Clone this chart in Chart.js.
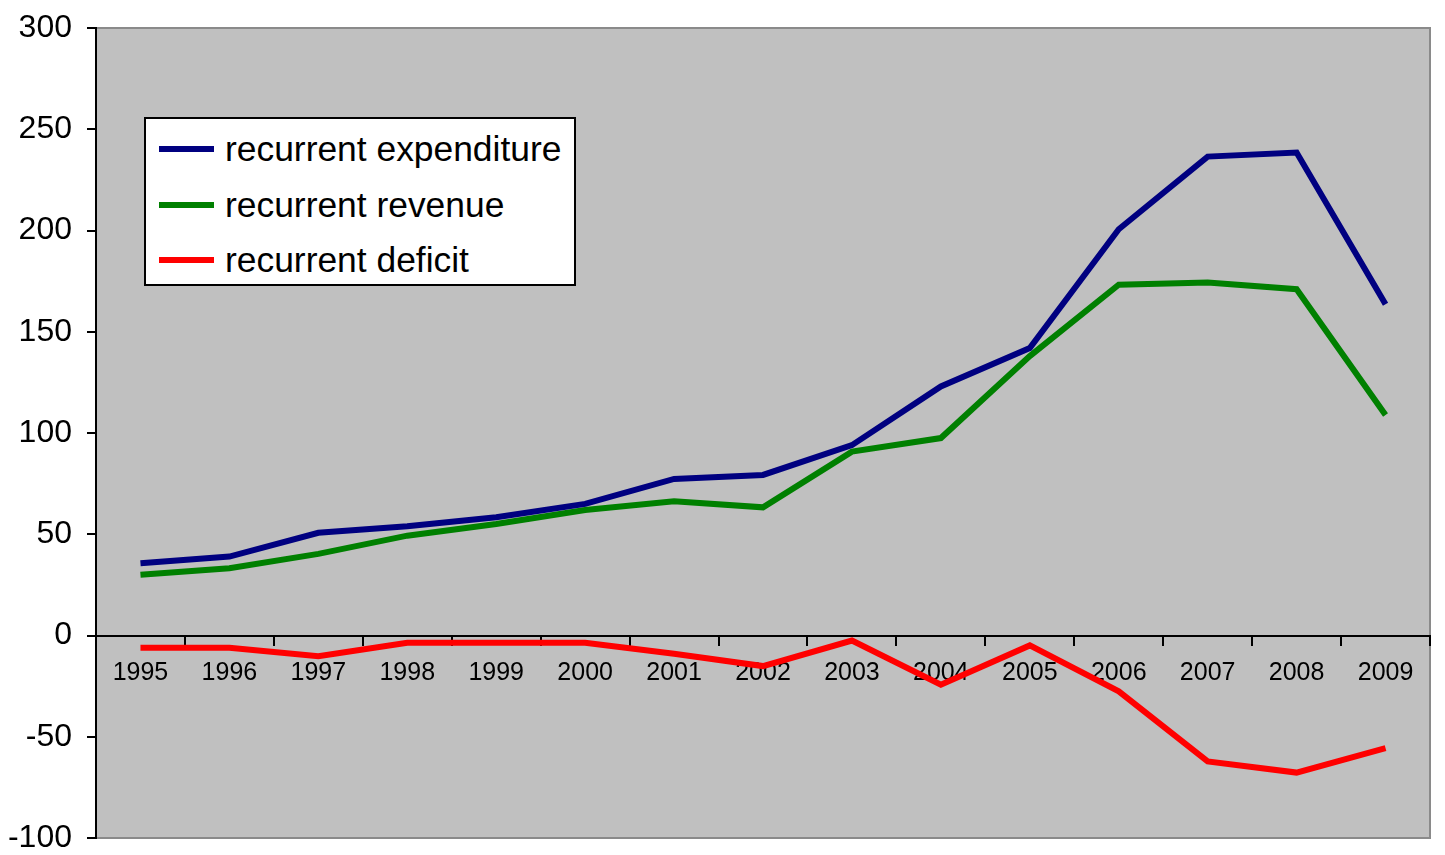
<!DOCTYPE html>
<html>
<head>
<meta charset="utf-8">
<script src="https://cdn.jsdelivr.net/npm/chart.js@4/dist/chart.umd.min.js"></script>
<style>
  html, body { margin: 0; padding: 0; background: #fff; }
  #wrap { position: relative; width: 1445px; height: 855px; }
  #legend {
    position: absolute; left: 144px; top: 117px; width: 432px; height: 169px;
    background: #fff; border: 2px solid #000; box-sizing: border-box;
    font-family: "Liberation Sans", Arial, sans-serif; font-size: 35.4px; color: #000;
  }
  .item { position: absolute; left: 13px; height: 40px; }
  .swatch { position: absolute; left: 0; top: 17px; width: 55px; height: 6px; }
  .label { position: absolute; left: 66px; top: 0; line-height: 40px; white-space: nowrap; }
</style>
</head>
<body>
<div id="wrap">
  <canvas id="canvasChart" width="1445" height="855"></canvas>
  <div id="legend"></div>
</div>
<script>
const years = ["1995","1996","1997","1998","1999","2000","2001","2002","2003","2004","2005","2006","2007","2008","2009"];
const expenditure = [35.7, 39, 50.7, 54, 58.4, 65, 77.3, 79.3, 94, 123, 142, 200.6, 236.5, 238.5, 163.6];
const revenue = [30, 33.2, 40.3, 49.3, 55.1, 62, 66.3, 63.3, 90.8, 97.5, 138, 173.2, 174.3, 171, 108.9];
const deficit = [-6, -6, -10.2, -3.6, -3.6, -3.6, -9, -15.1, -2.5, -24.3, -4.9, -27.6, -62.2, -67.7, -55.6];
const seriesNames = ["recurrent expenditure", "recurrent revenue", "recurrent deficit"];
const seriesColors = ["#000080", "#008000", "#ff0000"];

const plotBg = {
    id: 'plotBg',
    beforeDraw(chart) {
        const {ctx, chartArea: a} = chart;
        ctx.save();
        ctx.fillStyle = '#c0c0c0';
        ctx.fillRect(a.left, a.top, a.right - a.left, a.bottom - a.top);
        ctx.strokeStyle = '#8a8a8a';
        ctx.lineWidth = 2;
        ctx.beginPath();
        ctx.moveTo(a.left, a.top);
        ctx.lineTo(a.right, a.top);
        ctx.lineTo(a.right, a.bottom);
        ctx.lineTo(a.left, a.bottom);
        ctx.stroke();
        ctx.restore();
    }
};

const datasets = [expenditure, revenue, deficit].map((d, i) => ({
    label: seriesNames[i],
    data: d,
    borderColor: seriesColors[i],
    backgroundColor: seriesColors[i],
    borderWidth: 6,
    pointRadius: 0,
    tension: 0,
    fill: false
}));

let chart = new Chart(document.getElementById("canvasChart"), {
    type: 'line',
    data: { labels: years, datasets: datasets },
    options: {
        responsive: false,
        animation: false,
        layout: { padding: { left: 0, top: 28, right: 15, bottom: 17 } },
        plugins: { legend: { display: false }, tooltip: { enabled: false } },
        scales: {
            x: {
                position: { y: 0 },
                offset: true,
                grid: { display: true, offset: true, drawOnChartArea: false, drawTicks: true, tickLength: 9, color: '#000', lineWidth: 2 },
                border: { display: true, color: '#000', width: 2 },
                ticks: { color: '#000', padding: 14, maxRotation: 0, autoSkip: false,
                         font: { family: 'Liberation Sans', size: 25 } },
                afterFit: (s) => { s.height = 0; s.paddingLeft = 0; s.paddingRight = 0; s.paddingTop = 0; s.paddingBottom = 0; }
            },
            y: {
                min: -100, max: 300,
                grid: { display: true, drawOnChartArea: false, drawTicks: true, tickLength: 9, color: '#000', lineWidth: 2 },
                border: { display: true, color: '#000', width: 2 },
                ticks: { stepSize: 50, color: '#000', padding: 15,
                         font: { family: 'Liberation Sans', size: 32 } },
                afterFit: (s) => { s.width = 96; s.paddingTop = 0; s.paddingBottom = 0; }
            }
        }
    },
    plugins: [plotBg]
});

const legendEl = document.getElementById("legend");
const rowTops = [10, 66, 121];
seriesNames.forEach((name, i) => {
    const item = document.createElement('div');
    item.className = 'item';
    item.style.top = rowTops[i] + 'px';
    item.innerHTML = '<div class="swatch" style="background:' + seriesColors[i] + '"></div><span class="label">' + name + '</span>';
    legendEl.appendChild(item);
});
</script>
</body>
</html>
